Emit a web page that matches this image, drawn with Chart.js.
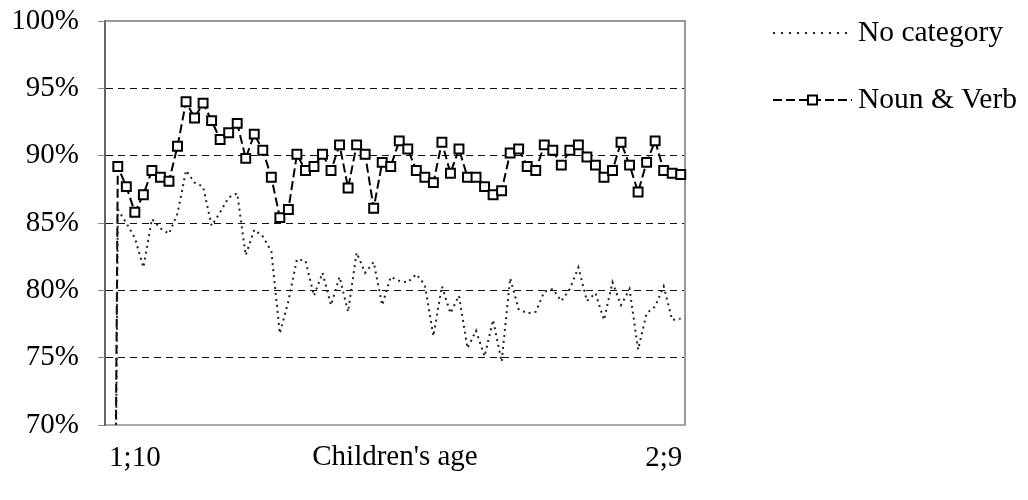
<!DOCTYPE html>
<html>
<head>
<meta charset="utf-8">
<script src="https://cdn.jsdelivr.net/npm/chart.js@4.4.0/dist/chart.umd.min.js"></script>
<style>
  html, body { margin: 0; padding: 0; background: #fff; }
  #wrap { width: 1028px; height: 500px; }
</style>
</head>
<body>
<div id="wrap"><canvas id="ageChart" width="1028" height="500"></canvas></div>
<script>
// percentage per session; the first session reads 0 (falls below the axis)
const noCategory = [0,
  86.0, 85.0, 83.9, 81.7, 85.3, 84.6, 84.2, 85.7, 88.9, 88.0,
  87.7, 84.8, 85.8, 86.9, 87.2, 82.6, 84.5, 84.0, 82.9, 76.8,
  79.2, 82.3, 82.2, 79.6, 81.3, 78.9, 81.0, 78.4, 82.8, 81.3,
  82.1, 78.9, 81.0, 80.7, 80.6, 81.2, 80.4, 76.6, 80.3, 78.3,
  79.6, 75.7, 77.0, 75.1, 77.8, 74.7, 80.9, 78.6, 78.3, 78.4,
  79.9, 80.1, 79.2, 80.1, 81.7, 79.2, 79.8, 77.8, 80.6, 78.9,
  80.1, 75.6, 78.3, 78.8, 80.3, 77.8, 77.9];

const nounVerb = [0,
  89.2, 87.7, 85.8, 87.1, 88.9, 88.4, 88.1, 90.7, 94.0, 92.8,
  93.9, 92.6, 91.2, 91.7, 92.4, 89.8, 91.6, 90.4, 88.4, 85.4,
  86.0, 90.1, 88.9, 89.2, 90.1, 88.9, 90.8, 87.6, 90.8, 90.1,
  86.1, 89.5, 89.2, 91.1, 90.5, 88.9, 88.4, 88.0, 91.0, 88.7,
  90.5, 88.4, 88.4, 87.7, 87.1, 87.4, 90.2, 90.5, 89.2, 88.9,
  90.8, 90.4, 89.3, 90.4, 90.8, 89.9, 89.3, 88.4, 88.9, 91.0,
  89.3, 87.3, 89.5, 91.1, 88.9, 88.7, 88.6];

const sessions = noCategory.map((_, i) => i);
const ageTicks = { 3: "1;10", 65: "2;9" };
const axisTitle = "Children's age";

const serif = "'Liberation Serif', 'Times New Roman', serif";
Chart.defaults.font.family = serif;
Chart.defaults.color = "#000";

// grey frame on top and right of the plot
const plotFrame = {
  id: "plotFrame",
  beforeDatasetsDraw(chart) {
    const { ctx, chartArea: a } = chart;
    ctx.save();
    ctx.strokeStyle = "#999";
    ctx.lineWidth = 2;
    ctx.beginPath();
    ctx.moveTo(a.left, a.top);
    ctx.lineTo(a.right, a.top);
    ctx.lineTo(a.right, a.bottom);
    ctx.stroke();
    ctx.restore();
  }
};

// legend to the right: line sample + label
const sideLegend = {
  id: "sideLegend",
  afterDraw(chart) {
    const { ctx, chartArea: a } = chart;
    const rowY = [33, 100];
    const x0 = a.right + 88, x1 = a.right + 167;
    chart.data.datasets.forEach((ds, i) => {
      const y = rowY[i];
      ctx.save();
      ctx.strokeStyle = ds.borderColor;
      ctx.lineWidth = ds.borderWidth;
      ctx.setLineDash(i === 0 ? [2, 6] : ds.borderDash);
      ctx.beginPath();
      ctx.moveTo(x0, y);
      ctx.lineTo(x1, y);
      ctx.stroke();
      if (ds.pointRadius > 0) {
        const s = 4.5;
        const cx = (x0 + x1) / 2;
        ctx.setLineDash([]);
        ctx.fillStyle = ds.pointBackgroundColor;
        ctx.lineWidth = ds.pointBorderWidth;
        ctx.beginPath();
        ctx.rect(cx - s, y - s, 2 * s, 2 * s);
        ctx.fill();
        ctx.stroke();
      }
      ctx.fillStyle = "#000";
      ctx.font = "29.5px " + serif;
      ctx.textBaseline = "middle";
      ctx.textAlign = "left";
      ctx.fillText(ds.label, x1 + 6, y);
      ctx.restore();
    });
  }
};

new Chart(document.getElementById("ageChart").getContext("2d"), {
  type: "line",
  data: {
    labels: sessions,
    datasets: [
      {
        label: "No category",
        data: noCategory,
        borderColor: "#222",
        borderWidth: 2,
        borderDash: [2, 4],
        pointRadius: 0,
        tension: 0,
        fill: false
      },
      {
        label: "Noun & Verb",
        data: nounVerb,
        borderColor: "#000",
        borderWidth: 2,
        borderDash: [9, 4],
        pointStyle: "rect",
        pointRadius: 6.3,
        pointBorderWidth: 2,
        pointBorderColor: "#000",
        pointBackgroundColor: "#fff",
        tension: 0,
        fill: false
      }
    ]
  },
  options: {
    responsive: false,
    animation: false,
    devicePixelRatio: 1,
    layout: { padding: { top: 21, right: 343, left: 0, bottom: 0 } },
    plugins: {
      legend: { display: false },
      tooltip: { enabled: false }
    },
    scales: {
      x: {
        type: "category",
        offset: true,
        grid: { display: false, drawTicks: false },
        border: { display: true, color: "#aaa", width: 2 },
        ticks: {
          autoSkip: false,
          maxRotation: 0,
          padding: 16,
          color: "#000",
          font: { size: 29 },
          callback: (v, i) => ageTicks[i] || ""
        },
        title: {
          display: true,
          text: axisTitle,
          color: "#000",
          font: { size: 29 },
          padding: { top: 0, bottom: 25 }
        },
        afterFit: (s) => { s.height = 75; s.paddingLeft = 0; s.paddingRight = 0; }
      },
      y: {
        min: 70,
        max: 100,
        ticks: {
          stepSize: 5,
          padding: 19,
          color: "#000",
          font: { size: 29 },
          callback: (v) => v + "%"
        },
        grid: {
          color: (c) => (c.tick && (c.tick.value === 70 || c.tick.value === 100)) ? "rgba(0,0,0,0)" : "#111",
          lineWidth: 1,
          tickLength: 7,
          tickColor: "#888",
          tickWidth: 1
        },
        border: { color: "#666", width: 2, dash: [7, 5] },
        afterFit: (s) => { s.width = 105; s.paddingTop = 0; s.paddingBottom = 0; }
      }
    }
  },
  plugins: [plotFrame, sideLegend]
});
</script>
</body>
</html>
